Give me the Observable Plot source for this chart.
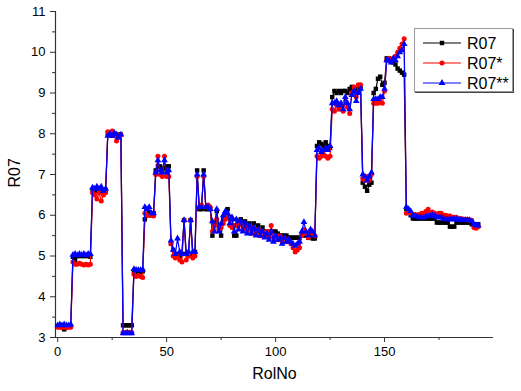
<!DOCTYPE html>
<html><head><meta charset="utf-8">
<script src="https://cdn.jsdelivr.net/npm/d3@7"></script>
<script src="https://cdn.jsdelivr.net/npm/@observablehq/plot@0.6"></script>
<style>
body{margin:0;background:#fff;font-family:Arial,"Liberation Sans",sans-serif}
#wrap{position:relative;width:521px;height:391px;overflow:hidden}
#legend{position:absolute;left:414px;top:28px;width:97px;height:62px;border:1px solid #999;box-shadow:1px 1px 0 #444;background:#fff}
</style></head>
<body><div id="wrap"><div id="chart"></div><div id="legend"></div></div>
<script>
const seriesNames = ["R07", "R07*", "R07**"];
const seriesColors = ["#000000", "#ff0000", "#0000ff"];
const seriesSymbols = ["square", "circle", "triangle"];
const xTicks = [0, 50, 100, 150];
const xMinor = [25, 75, 125, 175];
const yTicks = [3, 4, 5, 6, 7, 8, 9, 10, 11];
const yMinor = [3.5, 4.5, 5.5, 6.5, 7.5, 8.5, 9.5, 10.5];
const xDomain = [-1, 200];
const yDomain = [3, 11];

const r07 = [
3.28,3.28,3.27,3.2,3.27,3.28,3.28,
4.98,4.9,5.0,5.0,5.0,5.0,5.0,5.0,4.98,
6.62,6.6,6.62,6.6,6.6,6.58,6.62,
8.0,7.98,7.95,8.0,7.95,7.98,7.98,
3.3,3.3,3.3,3.3,3.3,
4.63,4.62,4.6,4.6,4.62,
5.9,6.0,6.05,6.0,6.05,
7.1,7.2,7.2,7.1,7.15,7.2,7.2,
5.3,5.15,5.0,5.05,5.0,5.05,5.88,5.05,5.0,5.88,5.05,5.1,
7.1,6.15,6.15,7.1,6.15,6.15,6.15,
5.5,5.8,6.1,5.7,5.5,5.9,6.05,6.15,5.95,5.9,
5.5,5.5,5.85,5.9,5.75,5.85,5.7,5.8,5.65,5.8,
5.6,5.75,5.6,5.7,5.6,5.6,5.55,5.6,5.6,5.6,
5.55,5.5,5.5,5.5,5.5,5.45,5.45,5.45,5.45,5.45,
5.45,5.5,5.55,5.5,5.45,5.5,5.43,5.43,
7.7,7.79,7.75,7.7,7.79,7.7,7.65,
8.9,9.05,9.0,9.05,9.0,9.05,9.05,9.0,9.1,9.15,9.1,9.1,9.1,9.15,
6.8,6.7,6.6,6.75,6.8,
9.0,9.1,9.35,9.4,9.2,9.25,
9.85,9.85,9.8,9.75,9.7,9.6,9.55,9.5,9.45,
6.15,6.1,6.0,5.92,5.92,5.92,5.92,5.92,5.92,5.92,
5.92,5.92,5.92,5.92,5.82,5.82,5.82,5.82,5.82,5.82,
5.72,5.72,5.72,5.82,5.82,5.82,5.82,5.82,5.82,5.82,
5.78,5.78,5.78,5.78
];
const r07s = [
3.25,3.25,3.24,3.25,3.24,3.25,3.25,
4.85,4.8,4.8,4.82,4.8,4.78,4.8,4.78,4.8,
6.55,6.5,6.4,6.55,6.35,6.5,6.55,
8.05,8.0,8.07,7.95,7.82,7.95,7.97,
3.12,3.12,3.13,3.12,3.12,
4.55,4.5,4.52,4.5,4.47,
6.05,6.0,6.0,6.0,5.98,
7.0,7.45,7.0,6.95,7.45,6.95,6.95,
5.3,5.0,4.95,5.0,4.9,4.85,5.88,4.9,5.0,5.88,4.95,5.0,
6.95,6.2,6.25,6.95,6.2,6.25,6.2,
5.6,5.75,5.9,5.65,5.7,5.8,5.9,5.95,5.75,5.7,
5.75,5.75,5.75,5.8,5.65,5.75,5.6,5.7,5.55,5.7,
5.55,5.65,5.5,5.6,5.5,5.6,5.45,5.75,5.45,5.5,
5.4,5.5,5.35,5.45,5.35,5.4,5.3,5.2,5.1,5.15,
5.2,5.5,5.65,5.55,5.45,5.6,5.55,5.5,
7.45,7.4,7.45,7.5,7.45,7.4,7.45,
8.6,8.55,8.7,8.6,8.7,8.55,8.8,8.65,8.5,9.0,9.15,8.9,9.2,9.2,
6.9,6.85,6.95,6.85,7.0,
8.75,8.75,8.75,8.8,8.75,9.05,
9.8,9.85,9.8,9.85,9.9,10.0,10.1,10.2,10.33,
6.05,6.1,6.05,6.0,6.02,6.0,6.02,6.05,6.05,6.1,
6.15,6.05,6.08,6.05,6.02,6.05,6.05,6.0,6.0,5.98,
5.98,5.95,5.95,5.95,5.92,5.92,5.9,5.9,5.9,5.88,
5.88,5.7,5.68,5.72
];
const r07ss = [
3.3,3.32,3.3,3.32,3.3,3.3,3.32,
5.03,5.05,5.02,5.05,5.03,5.05,5.02,5.05,5.05,
6.68,6.65,6.7,6.65,6.7,6.6,6.65,
7.95,8.0,7.95,8.02,7.98,7.9,7.98,
3.1,3.1,3.12,3.1,3.1,
4.68,4.66,4.65,4.65,4.67,
6.2,6.15,6.2,6.05,6.05,
7.05,7.35,7.1,7.05,7.35,7.05,7.1,
5.38,5.15,5.05,5.43,5.1,5.05,5.88,5.05,5.1,5.88,5.1,5.1,
7.0,6.2,6.2,7.0,6.2,6.2,6.15,
5.85,5.6,6.15,5.6,5.8,6.0,6.1,6.05,5.8,5.95,
5.6,5.9,5.65,5.85,5.6,5.8,5.55,5.75,5.55,5.7,
5.5,5.65,5.5,5.6,5.45,5.55,5.4,5.6,5.35,5.5,
5.4,5.45,5.3,5.45,5.35,5.4,5.35,5.3,5.25,5.3,
5.35,5.6,5.83,5.6,5.5,5.65,5.6,5.5,
7.6,7.65,7.55,7.6,7.65,7.6,7.7,
8.75,8.75,8.8,8.7,8.75,8.6,8.9,8.75,8.6,8.95,9.05,8.8,9.0,9.1,
7.0,6.95,6.85,6.95,7.05,
8.85,8.85,8.85,8.9,8.9,9.1,
9.8,9.8,9.75,9.85,9.8,9.9,10.0,10.05,10.2,
6.2,6.15,6.1,6.0,5.98,5.98,5.95,5.95,5.95,5.98,
5.98,5.98,6.0,5.98,5.95,5.95,5.95,5.92,5.9,5.9,
5.9,5.9,5.9,5.9,5.88,5.88,5.88,5.88,5.88,5.88,
5.85,5.78,5.75,5.75
];

const allSeries = [r07, r07s, r07ss];
const font = "Arial, 'Liberation Sans', sans-serif";
const dotR = 2.5;

const seriesMarks = allSeries.flatMap((vals, k) => {
  const rows = vals.map((v, i) => ({rolNo: i, v}));
  return [
    Plot.line(rows, {x: "rolNo", y: "v", stroke: seriesColors[k], strokeWidth: 1.2}),
    Plot.dot(rows, {x: "rolNo", y: "v", symbol: seriesSymbols[k], fill: seriesColors[k], stroke: "none", r: dotR})
  ];
});

const chart = Plot.plot({
  width: 521, height: 391,
  marginLeft: 55, marginRight: 28, marginTop: 11, marginBottom: 54,
  style: {fontFamily: font, fontSize: "13px", color: "#000", background: "#fff", overflow: "visible"},
  x: {domain: xDomain},
  y: {domain: yDomain},
  marks: [
    Plot.axisX(xTicks, {tickSize: 5, tickPadding: 4, fontSize: 13, label: null, stroke: "#333"}),
    Plot.axisX(xMinor, {tickSize: 3, tickFormat: () => "", label: null, stroke: "#333"}),
    Plot.axisY(yTicks, {tickSize: 5, tickPadding: 5, fontSize: 13, label: null, stroke: "#333"}),
    Plot.axisY(yMinor, {tickSize: 3, tickFormat: () => "", label: null, stroke: "#333"}),
    Plot.ruleX([xDomain[0]], {stroke: "#333", strokeWidth: 1.2}),
    Plot.ruleY([yDomain[0]], {stroke: "#333", strokeWidth: 1.2}),
    ...seriesMarks,
    Plot.text(["RolNo"], {text: d => d, frameAnchor: "bottom", dy: 41, fontSize: 16, fill: "#000"}),
    Plot.text(["R07"], {text: d => d, frameAnchor: "left", dx: -41, dy: 13, rotate: -90, fontSize: 16, fill: "#000"})
  ]
});
document.getElementById("chart").appendChild(chart);

// legend
const lg = d3.select("#legend").append("svg").attr("width", 97).attr("height", 62)
  .style("font-family", font);
const sym = d3.symbol().size(Math.PI * dotR * dotR);
const symTypes = {square: d3.symbolSquare, circle: d3.symbolCircle, triangle: d3.symbolTriangle};
seriesNames.forEach((name, k) => {
  const yy = 14 + k * 20;
  lg.append("line").attr("x1", 8).attr("x2", 46).attr("y1", yy).attr("y2", yy)
    .attr("stroke", seriesColors[k]).attr("stroke-width", 1.2);
  lg.append("path").attr("d", sym.type(symTypes[seriesSymbols[k]])())
    .attr("transform", `translate(27,${yy})`).attr("fill", seriesColors[k]);
  lg.append("text").attr("x", 52).attr("y", yy).attr("dy", "0.36em")
    .attr("font-size", 16).attr("fill", "#000").text(name);
});
</script>
</body></html>
